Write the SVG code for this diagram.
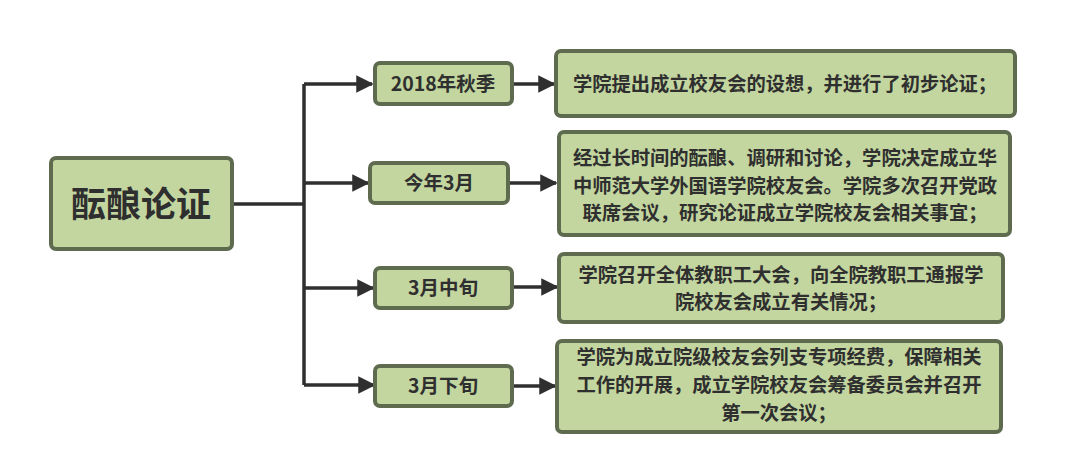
<svg xmlns="http://www.w3.org/2000/svg" width="1080" height="459" viewBox="0 0 1080 459">
<defs>
<marker id="arr" viewBox="0 0 10 10" refX="9" refY="5" markerWidth="5" markerHeight="5" markerUnits="strokeWidth" orient="auto">
<path d="M0,0 L10,5 L0,10 Z" fill="#2f2f2f"/>
</marker>
</defs>
<style>
.box{fill:#c3d69f;stroke:#5e6b4f;stroke-width:4}
.t{font-family:"Noto Sans CJK SC","Noto Sans",sans-serif;font-weight:bold;fill:#2f2f2f;text-anchor:middle}
.s{font-size:19.3px}
.m{font-size:19.5px}
.c{fill:none;stroke:#2f2f2f;stroke-width:3.5}
</style>
<rect width="1080" height="459" fill="#ffffff"/>
<g id="connectors">
<path class="c" d="M233,204 H304"/>
<path class="c" d="M304,84 V385"/>
<path class="c" d="M304,84 H372" marker-end="url(#arr)"/>
<path class="c" d="M304,183 H368" marker-end="url(#arr)"/>
<path class="c" d="M304,288 H373" marker-end="url(#arr)"/>
<path class="c" d="M304,385 H374" marker-end="url(#arr)"/>
<path class="c" d="M513,84 H554" marker-end="url(#arr)"/>
<path class="c" d="M508,183 H556" marker-end="url(#arr)"/>
<path class="c" d="M513,287 H557" marker-end="url(#arr)"/>
<path class="c" d="M513,386 H555" marker-end="url(#arr)"/>
</g>
<g id="main">
<rect class="box" x="51" y="158" width="181" height="91" rx="5"/>
<text class="t" x="141" y="217" font-size="35">酝酿论证</text>
</g>
<g id="t1">
<rect class="box" x="375" y="63" width="137" height="41" rx="5"/>
<text class="t m" x="443" y="91">2018年秋季</text>
</g>
<g id="t2">
<rect class="box" x="370" y="163" width="138" height="40" rx="5"/>
<text class="t m" x="439" y="190">今年3月</text>
</g>
<g id="t3">
<rect class="box" x="375" y="268" width="137" height="40" rx="5"/>
<text class="t m" x="443" y="295">3月中旬</text>
</g>
<g id="t4">
<rect class="box" x="375" y="366" width="137" height="40" rx="5"/>
<text class="t m" x="443" y="393">3月下旬</text>
</g>
<g id="d1">
<rect class="box" x="556" y="51" width="459" height="65" rx="5"/>
<text class="t s" x="785" y="91">学院提出成立校友会的设想，并进行了初步论证；</text>
</g>
<g id="d2">
<rect class="box" x="559" y="132" width="451" height="103" rx="5"/>
<text class="t s" x="785" y="165">经过长时间的酝酿、调研和讨论，学院决定成立华</text>
<text class="t s" x="785" y="193">中师范大学外国语学院校友会。学院多次召开党政</text>
<text class="t s" x="785" y="220">联席会议，研究论证成立学院校友会相关事宜；</text>
</g>
<g id="d3">
<rect class="box" x="559" y="254" width="444" height="68" rx="5"/>
<text class="t s" x="781" y="282">学院召开全体教职工大会，向全院教职工通报学</text>
<text class="t s" x="781" y="309">院校友会成立有关情况；</text>
</g>
<g id="d4">
<rect class="box" x="557" y="341" width="444" height="91" rx="5"/>
<text class="t s" x="779" y="364">学院为成立院级校友会列支专项经费，保障相关</text>
<text class="t s" x="779" y="392">工作的开展，成立学院校友会筹备委员会并召开</text>
<text class="t s" x="779" y="420">第一次会议；</text>
</g>
</svg>
